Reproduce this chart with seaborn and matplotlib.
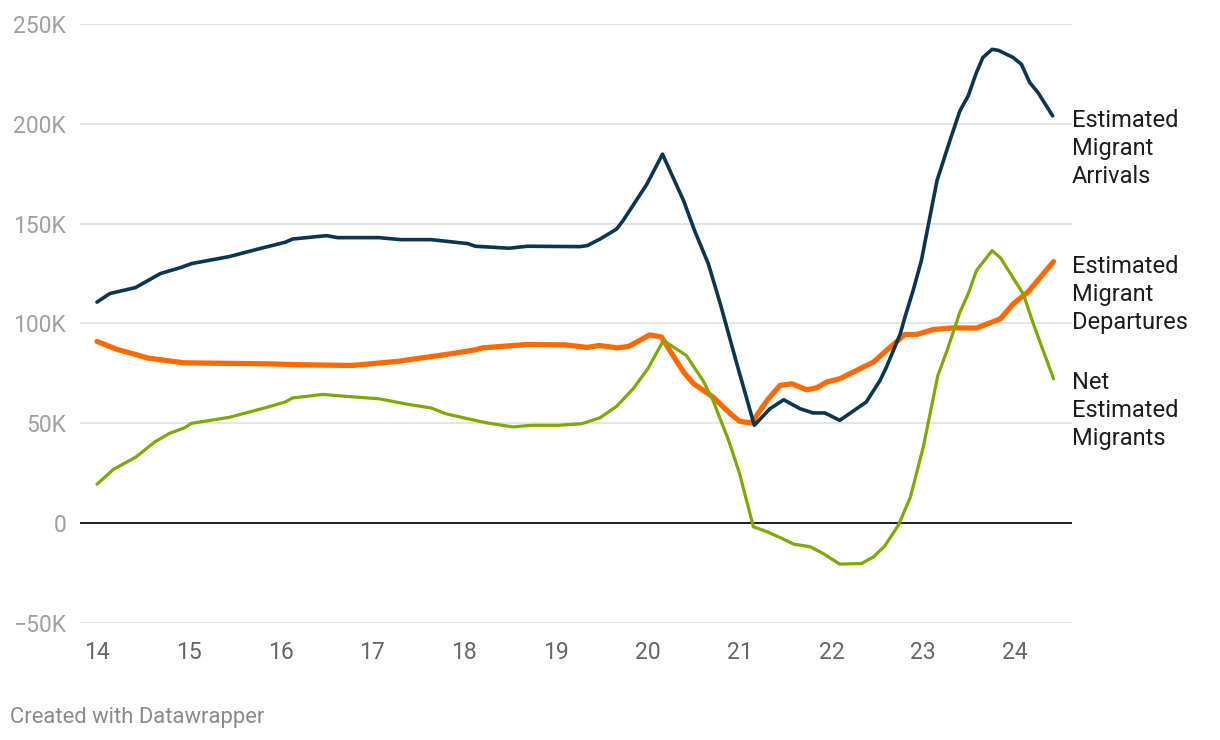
#!/usr/bin/env python3
# -*- coding: utf-8 -*-
"""
Estimated migrant arrivals, departures and net migrants (2014-2024)
Rebuilt with seaborn in the Datawrapper style.
"""

import matplotlib
matplotlib.use("Agg")
import matplotlib.pyplot as plt
import seaborn as sns
import pandas as pd
from matplotlib.ticker import FuncFormatter

# ---- data (x = year, two-digit, decimal; y = thousands) ----
arrivals_x = [14.00, 14.14, 14.42, 14.69, 14.91, 15.03, 15.44, 15.73, 16.05, 16.13,
              16.50, 16.62, 17.07, 17.31, 17.64, 18.04, 18.12, 18.49, 18.69, 19.26,
              19.34, 19.48, 19.66, 19.73, 19.99, 20.16, 20.39, 20.51, 20.66, 20.79,
              20.97, 21.16, 21.33, 21.48, 21.66, 21.80, 21.93, 22.09, 22.17, 22.38,
              22.53, 22.60, 22.75, 22.80, 22.89, 22.98, 23.15, 23.29, 23.40, 23.49,
              23.58, 23.65, 23.75, 23.82, 23.98, 24.07, 24.16, 24.25, 24.41]
arrivals_k = [110.7, 115, 118, 125, 128, 130, 133.5, 137, 140.7, 142.3,
              144, 143, 143, 142, 142, 140, 138.7, 137.7, 138.7, 138.5,
              139, 142.3, 147.3, 151.5, 169.8, 184.8, 161.5, 146.5, 129.8, 109.8,
              79.8, 49, 57.3, 61.8, 57.3, 55.2, 55.2, 51.5, 54, 60.7,
              71.5, 78.2, 94.8, 103, 116.5, 131.5, 171.5, 191.5, 206.5, 214,
              225.7, 233.2, 237.3, 236.8, 233.2, 229.8, 220.7, 215.7, 204]

departures_x = [14.00, 14.22, 14.42, 14.55, 14.95, 15.85, 16.25, 16.78, 17.27, 17.88,
                18.12, 18.20, 18.69, 19.10, 19.34, 19.47, 19.67, 19.79, 19.91, 20.02,
                20.15, 20.24, 20.39, 20.50, 20.71, 20.90, 21.00, 21.13, 21.30, 21.44,
                21.57, 21.73, 21.84, 21.95, 22.09, 22.31, 22.46, 22.60, 22.80, 22.93,
                23.11, 23.33, 23.58, 23.84, 23.98, 24.14, 24.42]
departures_k = [91, 87, 84.5, 82.7, 80.3, 79.8, 79.3, 79, 81, 85,
                86.8, 87.8, 89.5, 89.3, 88, 89, 87.8, 88.5, 91.5, 94.3,
                93.2, 86.5, 75.7, 69.8, 63.2, 54.8, 51, 50.2, 61.5, 69,
                69.8, 66.8, 67.8, 70.7, 72.3, 77.3, 80.7, 86.5, 94.5, 94.5,
                97, 97.8, 97.7, 102.3, 109.8, 115.7, 131]

net_x = [14.00, 14.18, 14.42, 14.63, 14.79, 14.95, 15.03, 15.44, 15.85, 16.05,
         16.13, 16.46, 16.66, 17.07, 17.39, 17.64, 17.80, 18.04, 18.25, 18.53,
         18.73, 19.02, 19.28, 19.48, 19.66, 19.84, 20.00, 20.17, 20.28, 20.42,
         20.60, 20.71, 20.88, 21.00, 21.15, 21.30, 21.44, 21.59, 21.77, 21.91,
         22.09, 22.33, 22.46, 22.58, 22.73, 22.86, 23.00, 23.16, 23.26, 23.40,
         23.49, 23.58, 23.75, 23.84, 24.09, 24.20, 24.42]
net_k = [19.5, 27, 33, 40.7, 45, 47.7, 50, 53, 58, 60.7,
         62.7, 64.5, 63.7, 62.3, 59.5, 57.7, 54.8, 52.3, 50.2, 48.2,
         49, 49, 49.8, 52.8, 58.5, 67.3, 77.3, 91.5, 88.2, 84,
         71.5, 61.5, 41.5, 24.8, -1.8, -4.3, -7.2, -10.5, -11.8, -15.2,
         -20.5, -20.2, -16.8, -11.5, -1, 13, 38, 74, 86.5, 105.7,
         114.8, 126.5, 136.5, 133, 114.8, 99.8, 72.3]

x_ticks = [14, 15, 16, 17, 18, 19, 20, 21, 22, 23, 24]
y_ticks = [-50, 0, 50, 100, 150, 200, 250]

labels = {
    "arrivals": "Estimated\nMigrant\nArrivals",
    "departures": "Estimated\nMigrant\nDepartures",
    "net": "Net\nEstimated\nMigrants",
}
label_y = {"arrivals": 187.5, "departures": 114.5, "net": 56.5}

colors = {"arrivals": "#0a3652", "departures": "#ff6a00", "net": "#7fa800"}
widths = {"arrivals": 2.6, "departures": 3.8, "net": 2.3}

series = {
    "departures": (departures_x, departures_k),
    "net": (net_x, net_k),
    "arrivals": (arrivals_x, arrivals_k),
}

# ---- style ----
sns.set_theme(style="white")
plt.rcParams["font.family"] = ["Roboto", "DejaVu Sans"]

fig = plt.figure(figsize=(12.2, 7.4), dpi=100)
ax = fig.add_axes([80 / 1220, 1 - 623 / 740, (1072 - 80) / 1220, (623 - 24) / 740])

ax.grid(axis="y", color="#e5e5e5", lw=1.4)
ax.set_axisbelow(True)
ax.axhline(0, color="#1d1d1d", lw=1.4, zorder=2)

for key, (xs, ys) in series.items():
    df = pd.DataFrame({"year": xs, "value": ys})
    sns.lineplot(data=df, x="year", y="value", ax=ax, color=colors[key],
                 lw=widths[key], estimator=None, sort=False,
                 solid_capstyle="round", solid_joinstyle="round",
                 clip_on=False, zorder=3)
    ax.text(1.0, label_y[key], labels[key], transform=ax.get_yaxis_transform(),
            ha="left", va="center", fontsize=17, color="#1d1d1d",
            linespacing=1.27)

ax.set_xlim(14 - 17 / 91.8, 14 + 975 / 91.8)
ax.set_ylim(-50, 250)
ax.set_xticks(x_ticks)
ax.set_yticks(y_ticks)
ax.yaxis.set_major_formatter(FuncFormatter(
    lambda v, _: "0" if v == 0 else ("\u2212" if v < 0 else "") + f"{abs(int(v))}K"))
ax.tick_params(axis="y", length=0, pad=10, labelsize=16.5, labelcolor="#a0a0a0")
ax.tick_params(axis="x", length=0, pad=13, labelsize=16.5, labelcolor="#666666")
ax.set_xlabel("")
ax.set_ylabel("")
for s in ax.spines.values():
    s.set_visible(False)

fig.text(10 / 1220, 1 - 717 / 740, "Created with Datawrapper", fontsize=15.8,
         color="#8a8a8a", ha="left", va="center")

fig.savefig("out.png", dpi=100)
